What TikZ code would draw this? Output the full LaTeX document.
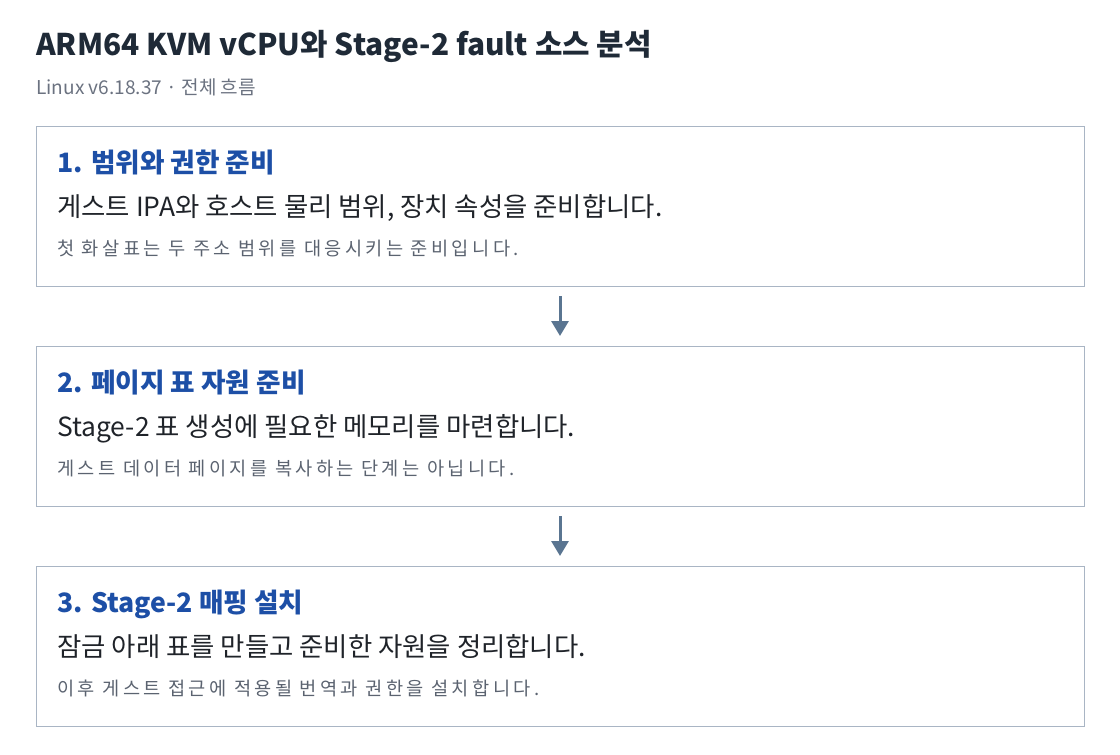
\documentclass[tikz,border=0pt]{standalone}
\usepackage{fontspec}
\setmainfont{Noto Sans CJK KR}
\newfontfamily\hintfont[LetterSpace=18]{Noto Sans CJK KR}
\usetikzlibrary{positioning}
\usetikzlibrary{arrows.meta}

\definecolor{titlecol}{HTML}{1F2A37}
\definecolor{subcol}{HTML}{6B7280}
\definecolor{headcol}{HTML}{1D4FA6}
\definecolor{desccol}{HTML}{1F2329}
\definecolor{hintcol}{HTML}{5B6370}
\definecolor{boxcol}{HTML}{A9B5C4}
\definecolor{arrowcol}{HTML}{5A7591}

\begin{document}
\begin{tikzpicture}[x=0.75pt, y=-0.75pt,
  stepbox/.style={draw=boxcol, line width=0.75pt, minimum width=786pt, minimum height=120pt, inner sep=0pt, outer sep=0pt},
  head/.style={anchor=base west, inner sep=0pt, text=headcol, font=\fontsize{20}{24}\selectfont\bfseries},
  desc/.style={anchor=base west, inner sep=0pt, text=desccol, font=\fontsize{19.8}{23}\selectfont},
  hint/.style={anchor=base west, inner sep=0pt, text=hintcol, font=\hintfont\fontsize{14}{17}\selectfont},
  flow/.style={draw=arrowcol, line width=2.25pt, -{Triangle[width=12.75pt, length=11.25pt]}, shorten <=7.5pt, shorten >=7.5pt}]

\useasboundingbox (0,0) rectangle (1120,754);

\node (T) [anchor=base west, inner sep=0pt, text=titlecol, font=\fontsize{22.4}{26}\selectfont\bfseries] at (36,55) {ARM64 KVM vCPU와 Stage-2 fault 소스 분석};
\node (ST) [anchor=base west, inner sep=0pt, text=subcol, font=\fontsize{14.3}{17}\selectfont] at (36,94) {Linux v6.18.37 · 전체 흐름};

\node (S1) [stepbox, anchor=north west] at (36,126) {};
\node (S2) [stepbox, below=45pt of S1] {};
\node (S3) [stepbox, below=45pt of S2] {};

\node (H1) [head] at ([shift={(21,46)}]S1.north west) {1. 범위와 권한 준비};
\node (D1) [desc] at ([shift={(21,90)}]S1.north west) {게스트 IPA와 호스트 물리 범위, 장치 속성을 준비합니다.};
\node (N1) [hint] at ([shift={(21,129)}]S1.north west) {첫 화살표는 두 주소 범위를 대응시키는 준비입니다.};

\node (H2) [head] at ([shift={(21,46)}]S2.north west) {2. 페이지 표 자원 준비};
\node (D2) [desc] at ([shift={(21,90)}]S2.north west) {Stage-2 표 생성에 필요한 메모리를 마련합니다.};
\node (N2) [hint] at ([shift={(21,129)}]S2.north west) {게스트 데이터 페이지를 복사하는 단계는 아닙니다.};

\node (H3) [head] at ([shift={(21,46)}]S3.north west) {3. Stage-2 매핑 설치};
\node (D3) [desc] at ([shift={(21,90)}]S3.north west) {잠금 아래 표를 만들고 준비한 자원을 정리합니다.};
\node (N3) [hint] at ([shift={(21,129)}]S3.north west) {이후 게스트 접근에 적용될 번역과 권한을 설치합니다.};

\draw[flow] (S1) -- (S2);
\draw[flow] (S2) -- (S3);
\end{tikzpicture}
\end{document}
